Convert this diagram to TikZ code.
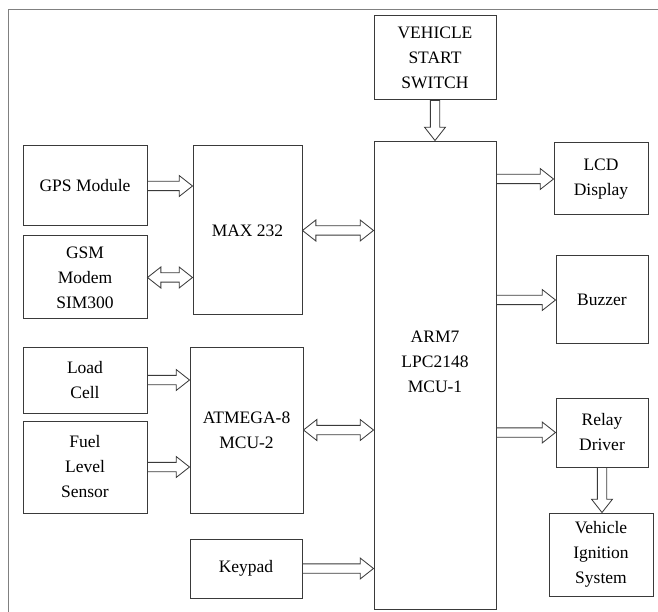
\documentclass[tikz,border=0pt]{standalone}
\usepackage{fontspec}
\setmainfont{Liberation Serif}
\usepackage{xcolor}
\usepackage{tikz}
\usetikzlibrary{positioning, arrows.meta, calc}
\definecolor{linegray}{HTML}{3A3A3A}
\definecolor{framegray}{HTML}{808080}

\begin{document}
\begin{tikzpicture}[x=0.6pt, y=-0.6pt,
    blockbox/.style={draw=linegray, line width=0.6pt, align=center, inner sep=2pt,
                     font=\fontsize{10.5}{15}\selectfont},
    fatarrow/.style={draw=linegray, fill=white, line width=0.5pt, line join=miter, to path={
      let \p1=($(\tikztotarget)!8pt!(\tikztostart)$) in
      ($(\tikztostart)!2.8pt!90:(\tikztotarget)$) -- ($(\p1)!2.8pt!90:(\tikztotarget)$)
      -- ($(\p1)!6.3pt!90:(\tikztotarget)$) -- (\tikztotarget)
      -- ($(\p1)!6.3pt!-90:(\tikztotarget)$) -- ($(\p1)!2.8pt!-90:(\tikztotarget)$)
      -- ($(\tikztostart)!2.8pt!-90:(\tikztotarget)$) -- cycle}},
    fatboth/.style={draw=linegray, fill=white, line width=0.5pt, line join=miter, to path={
      let \p1=($(\tikztotarget)!8pt!(\tikztostart)$), \p2=($(\tikztostart)!8pt!(\tikztotarget)$) in
      (\tikztostart) -- ($(\p2)!6.3pt!90:(\tikztotarget)$) -- ($(\p2)!2.8pt!90:(\tikztotarget)$)
      -- ($(\p1)!2.8pt!90:(\tikztotarget)$) -- ($(\p1)!6.3pt!90:(\tikztotarget)$) -- (\tikztotarget)
      -- ($(\p1)!6.3pt!-90:(\tikztotarget)$) -- ($(\p1)!2.8pt!-90:(\tikztotarget)$)
      -- ($(\p2)!2.8pt!-90:(\tikztotarget)$) -- ($(\p2)!6.3pt!-90:(\tikztotarget)$) -- cycle}}]
    \useasboundingbox (0,0) rectangle (658,612);
    \draw[framegray, line width=0.6pt] (8,612) -- (8,10) -- (658,10);

    % main controller and its inputs
    \node[blockbox, minimum width=73.2pt, minimum height=50.4pt] (switch) at (435,58) {VEHICLE\\START\\SWITCH};
    \node[blockbox, minimum width=73.2pt, minimum height=280.8pt] (arm) at (435,375) {};
    \node[align=center, font=\fontsize{10.5}{15}\selectfont] (armtext) at (435,362) {ARM7\\LPC2148\\MCU-1};

    \node[blockbox, minimum width=74.4pt, minimum height=48pt] (gps) at (85,186) {GPS Module};
    \node[blockbox, minimum width=74.4pt, minimum height=49.8pt] (gsm) at (85,277.5) {GSM\\Modem\\SIM300};
    \node[blockbox, minimum width=65.4pt, minimum height=101.4pt] (max) at (247.5,230.5) {MAX 232};

    \node[blockbox, minimum width=74.4pt, minimum height=39.6pt] (load) at (85,380) {Load\\Cell};
    \node[blockbox, minimum width=74.4pt, minimum height=55.2pt] (fuel) at (85,467) {Fuel\\Level\\Sensor};
    \node[blockbox, minimum width=67.8pt, minimum height=99.6pt] (atmega) at (246.5,430) {ATMEGA-8\\MCU-2};
    \node[blockbox, minimum width=67.2pt, minimum height=35.4pt] (keypad) at (246,568.5) {Keypad};

    % outputs
    \node[blockbox, minimum width=56.4pt, minimum height=43.2pt] (lcd) at (601,179) {LCD\\Display};
    \node[blockbox, minimum width=55.2pt, minimum height=52.8pt] (buzzer) at (602,300) {Buzzer};
    \node[blockbox, minimum width=55.2pt, minimum height=41.4pt] (relay) at (602,432.5) {Relay\\Driver};
    \node[blockbox, minimum width=62.4pt, minimum height=49.8pt] (ignition) at (601,554.5) {Vehicle\\Ignition\\System};

    % connections
    \draw[fatarrow] (switch.south) to (switch.south |- arm.north);
    \draw[fatarrow] (gps.east) to (gps.east -| max.west);
    \draw[fatboth] (gsm.east) to (gsm.east -| max.west);
    \draw[fatboth] (max.east) to (max.east -| arm.west);
    \draw[fatarrow] (load.east) to (load.east -| atmega.west);
    \draw[fatarrow] (fuel.east) to (fuel.east -| atmega.west);
    \draw[fatboth] (atmega.east) to (atmega.east -| arm.west);
    \draw[fatarrow] (keypad.east) to (keypad.east -| arm.west);
    \draw[fatarrow] (arm.east |- lcd.west) to (lcd.west);
    \draw[fatarrow] (arm.east |- buzzer.west) to (buzzer.west);
    \draw[fatarrow] (arm.east |- relay.west) to (relay.west);
    \draw[fatarrow] (relay.south) to (relay.south |- ignition.north);
\end{tikzpicture}
\end{document}
